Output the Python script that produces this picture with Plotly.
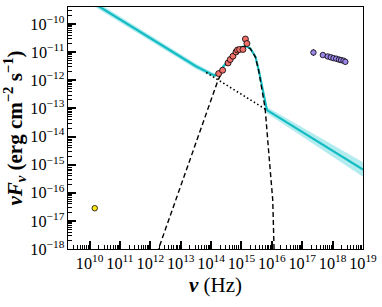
import numpy as np
import plotly.graph_objects as go

# ---- data (log10 values) ----
radio_logx = [10.17]
radio_logy = [-16.55]

opt_logx = [14.25, 14.38, 14.56, 14.63, 14.72, 14.82, 14.87, 14.94, 15.05, 15.13, 15.18]
opt_logy = [-11.76, -11.64, -11.38, -11.26, -11.14, -10.99, -10.92, -10.90, -10.90, -10.53, -10.69]

xray_logx = [17.37, 17.68, 17.84, 17.94, 18.03, 18.12, 18.21, 18.28, 18.36, 18.42]
xray_logy = [-11.01, -11.10, -11.15, -11.18, -11.21, -11.23, -11.26, -11.28, -11.30, -11.34]
xray_err_dex = [0.12, 0.03, 0.03, 0.03, 0.04, 0.04, 0.05, 0.06, 0.07, 0.09]

model_logx = [9.8, 13.5, 14.03, 14.14, 14.25, 14.47, 14.74, 14.96, 15.13, 15.29, 15.46, 15.57, 15.68, 15.79, 15.84, 19.0]
model_logy = [-9.03, -11.50, -11.79, -11.82, -11.72, -11.40, -11.04, -10.83, -10.78, -10.86, -11.16, -11.64, -12.23, -12.88, -13.06, -15.17]
model_band_dex = [0.11, 0.10, 0.08, 0.06, 0.04, 0.03, 0.02, 0.02, 0.02, 0.02, 0.03, 0.04, 0.06, 0.09, 0.11, 0.26]

pl_logx = [13.84, 15.84]
pl_logy = [-11.72, -13.06]

bb_logx = [12.22, 12.88, 13.32, 13.8, 14.23, 14.47, 14.74, 14.96, 15.13, 15.29, 15.46, 15.57, 15.68, 15.78, 15.88, 15.97, 16.03, 16.08]
bb_logy = [-18.15, -16.13, -14.78, -13.31, -11.99, -11.48, -11.06, -10.84, -10.79, -10.87, -11.17, -11.67, -12.33, -13.0, -14.33, -15.52, -16.26, -18.3]

# ---- conversion to linear units ----
def lin(a):
    return 10.0 ** np.asarray(a, dtype=float)

mx, my = lin(model_logx), lin(model_logy)
band = np.asarray(model_band_dex)
mup = lin(np.asarray(model_logy) + band)
mlo = lin(np.asarray(model_logy) - band)

xy = lin(xray_logy)
xe = np.asarray(xray_err_dex)
xerr_p = lin(np.asarray(xray_logy) + xe) - xy
xerr_m = xy - lin(np.asarray(xray_logy) - xe)

CYAN = "#12BCC2"
BAND = "#B3ECEF"

fig = go.Figure()
fig.add_trace(go.Scatter(x=mx, y=mup, mode="lines", line=dict(width=0, color=BAND),
                         hoverinfo="skip", showlegend=False))
fig.add_trace(go.Scatter(x=mx, y=mlo, mode="lines", line=dict(width=0, color=BAND),
                         fill="tonexty", fillcolor=BAND, hoverinfo="skip", showlegend=False))
fig.add_trace(go.Scatter(x=mx, y=my, mode="lines", line=dict(width=2.2, color=CYAN),
                         showlegend=False))
fig.add_trace(go.Scatter(x=lin(pl_logx), y=lin(pl_logy), mode="lines",
                         line=dict(width=1.6, color="black", dash="1.5px,2.5px"), showlegend=False))
fig.add_trace(go.Scatter(x=lin(bb_logx), y=lin(bb_logy), mode="lines",
                         line=dict(width=1.4, color="black", dash="5px,3px"), showlegend=False))
fig.add_trace(go.Scatter(x=lin(radio_logx), y=lin(radio_logy), mode="markers",
                         marker=dict(size=5.5, color="#FFE81A", line=dict(width=0.8, color="black")),
                         showlegend=False))
fig.add_trace(go.Scatter(x=lin(opt_logx), y=lin(opt_logy), mode="markers",
                         marker=dict(size=6, color="#F0706A", line=dict(width=0.8, color="black")),
                         showlegend=False))
fig.add_trace(go.Scatter(x=lin(xray_logx), y=xy, mode="markers",
                         error_y=dict(type="data", symmetric=False, array=xerr_p, arrayminus=xerr_m,
                                      color="black", thickness=1, width=0),
                         marker=dict(size=5.5, color="#9C86E8", line=dict(width=0.8, color="black")),
                         showlegend=False))

FONT = "Liberation Serif, DejaVu Serif, serif"
axis_common = dict(type="log", dtick=1, exponentformat="power", showexponent="all",
                   ticks="inside", ticklen=8, tickwidth=1.5, tickcolor="black",
                   minor=dict(ticks="inside", ticklen=4, tickwidth=1, dtick="D1", tickcolor="black"),
                   showline=True, mirror=True, linecolor="black", linewidth=1,
                   showgrid=False, zeroline=False, automargin=False,
                   tickfont=dict(family=FONT, size=13, color="black"))

fig.update_xaxes(range=[9.29, 19.001],
                 title=dict(text="<b><i>ν</i></b> (Hz)", font=dict(family=FONT, size=21, color="black"),
                            standoff=4),
                 **axis_common)
fig.update_yaxes(range=[-18.001, -9.39],
                 title=dict(text="<b><i>νF<sub>ν</sub></i> (erg cm<sup>−2</sup> s<sup>−1</sup>)</b>",
                            font=dict(family=FONT, size=21, color="black"), standoff=4),
                 **axis_common)

fig.update_layout(width=382, height=307, margin=dict(l=68, r=19, t=7, b=58),
                  plot_bgcolor="white", paper_bgcolor="white")

fig.write_html("out.html", config={"displayModeBar": False},
               post_script="document.body.style.margin='0';document.body.style.padding='0';")
